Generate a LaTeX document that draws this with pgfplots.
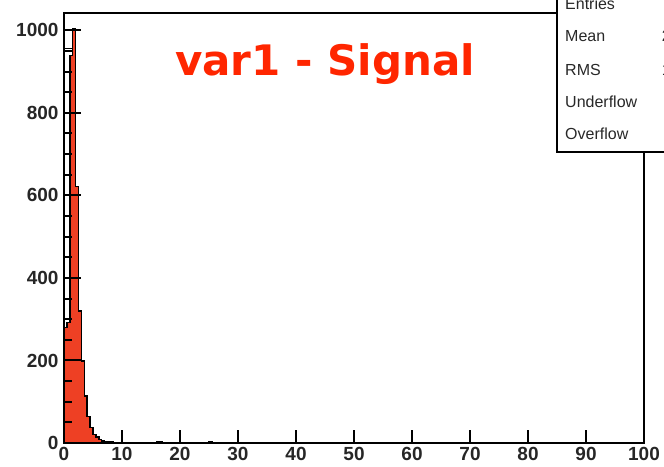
\documentclass[border=0pt]{standalone}
\usepackage{fontspec}
\setmainfont{Liberation Sans}
\newfontfamily\titlefont{DejaVu Sans}
\usepackage{pgfplots}
\pgfplotsset{compat=1.18}
\definecolor{sigred}{RGB}{238,64,36}
\definecolor{titlered}{RGB}{255,38,0}
\definecolor{stattxt}{RGB}{40,40,40}
\begin{document}
\begin{tikzpicture}
\useasboundingbox (0,0) rectangle (664bp,467bp);
\begin{axis}[
  at={(64bp,24bp)}, anchor=south west,
  width=580bp, height=430bp, scale only axis,
  xmin=0, xmax=100, ymin=0, ymax=1042,
  xtick={0,10,...,100}, ytick={0,200,...,1000},
  xtick pos=bottom, ytick pos=left,
  major tick length=0pt,
  axis line style={line width=1.6bp, black},
  /pgf/number format/1000 sep={},
  /pgf/number format/assume math mode=true,
  ticklabel style={font=\fontsize{19bp}{22bp}\selectfont\bfseries, text=black!85},
  yticklabel style={xshift=-2bp},
  xticklabel style={yshift=-1bp},
  clip=false,
]
\addplot[const plot, fill=sigred, draw=black, line width=1.5bp] coordinates {
(0,280) (0.5,292) (1,939) (1.5,1005) (2,622) (2.5,320) (3,199) (3.5,114)
(4,64) (4.5,37) (5,21) (5.5,14) (6,8) (6.5,5) (7,3) (7.5,2) (8,2) (8.5,1)
(9,1) (9.5,1) (10,0) (10.5,0) (11,1) (11.5,1) (12,1) (12.5,0) (16,2) (16.5,2)
(17,0) (25,2) (25.5,0) (100,0)
} \closedcycle;
\addplot[black, line width=1.5bp, forget plot] coordinates {(0,956) (1.5,956)};
% x tick marks, drawn upward from the axis
\addplot[ycomb, black, line width=2bp, mark=none, forget plot] coordinates {
(10,31) (20,31) (30,31) (40,31) (50,31) (60,31) (70,31) (80,31) (90,31)
};
% y major tick marks
\addplot[xcomb, black, line width=2bp, mark=none, forget plot] coordinates {
(2.9,200) (2.9,400) (2.9,600) (2.9,800) (2.9,1000)
};
% y minor tick marks
\addplot[xcomb, black, line width=2bp, mark=none, forget plot] coordinates {
(1.4,50) (1.4,100) (1.4,150) (1.4,250) (1.4,300) (1.4,350) (1.4,450) (1.4,500)
(1.4,550) (1.4,650) (1.4,700) (1.4,750) (1.4,850) (1.4,900) (1.4,950)
};
\end{axis}
\fill[white] (557bp,315bp) rectangle (720bp,500bp);
\draw[black, line width=1.5bp] (557bp,315bp) rectangle (720bp,500bp);
\node[anchor=base, text=titlered, font=\titlefont\fontsize{42bp}{48bp}\selectfont\bfseries] at (325bp,391bp) {var1 - Signal};
\begin{scope}[every node/.style={font=\fontsize{16bp}{19bp}\selectfont, text=stattxt, inner sep=0pt}]
\node[anchor=base west] at (565bp,457bp) {Entries};
\node[anchor=base west] at (565bp,425bp) {Mean};
\node[anchor=base west] at (565bp,391bp) {RMS};
\node[anchor=base west] at (565bp,359bp) {Underflow};
\node[anchor=base west] at (565bp,327bp) {Overflow};
\node[anchor=base east] at (702bp,457bp) {3919};
\node[anchor=base east] at (702bp,425bp) {2.219};
\node[anchor=base east] at (702bp,391bp) {1.173};
\node[anchor=base east] at (702bp,359bp) {0};
\node[anchor=base east] at (702bp,327bp) {0};
\end{scope}
\end{tikzpicture}
\end{document}
